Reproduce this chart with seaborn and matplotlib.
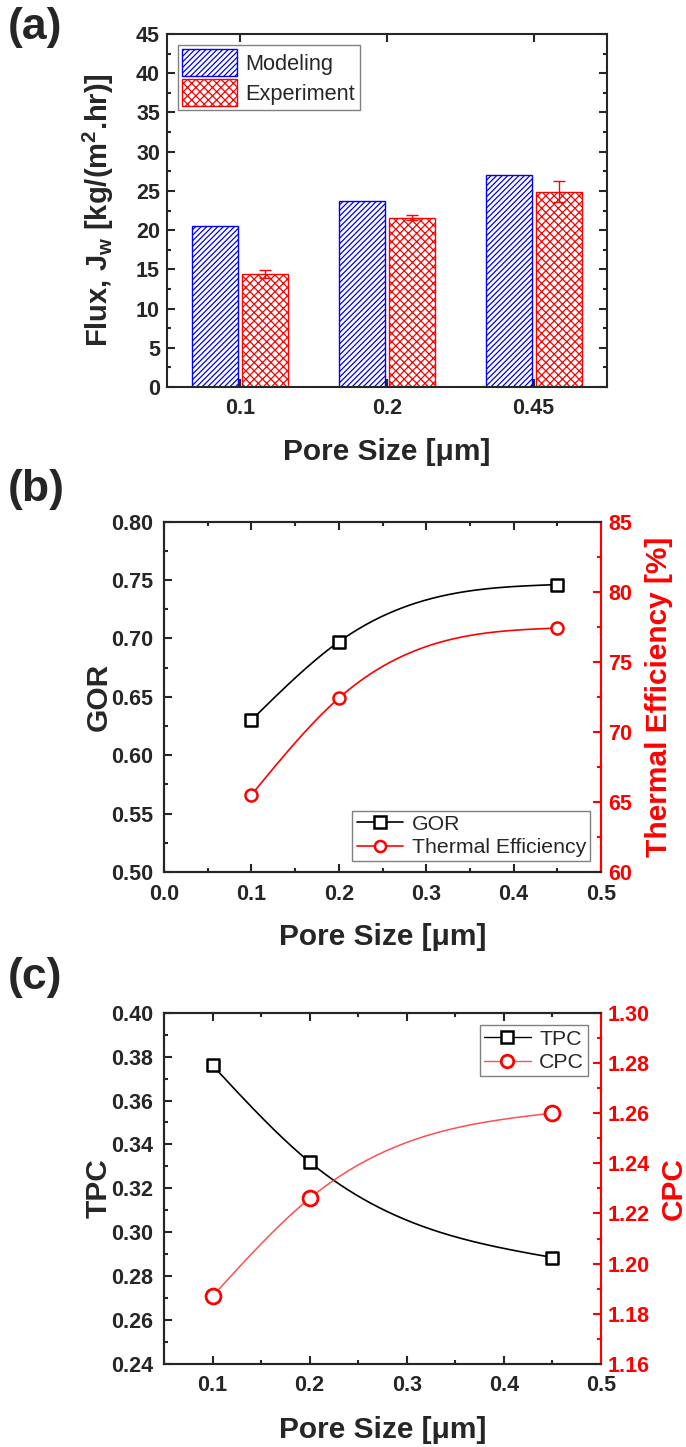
import numpy as np
import pandas as pd
import matplotlib
matplotlib.use("Agg")
import matplotlib.pyplot as plt
import seaborn as sns
from matplotlib.lines import Line2D
from matplotlib.patches import Patch
from matplotlib.ticker import MultipleLocator, FormatStrFormatter

# ---------------- data ----------------
pore_labels = ["0.1", "0.2", "0.45"]
pore_size = [0.1, 0.2, 0.45]
flux_model = [20.5, 23.7, 27.0]
flux_exp = [14.4, 21.6, 24.9]
flux_exp_err = [0.5, 0.3, 1.3]
gor = [0.630, 0.697, 0.746]
thermal_eff = [65.5, 72.4, 77.4]
tpc = [0.376, 0.332, 0.2885]
cpc = [1.187, 1.226, 1.260]

sns.set_theme(style="ticks")
plt.rcParams["font.family"] = ["Liberation Sans", "DejaVu Sans"]
plt.rcParams["font.weight"] = "bold"
plt.rcParams["mathtext.fontset"] = "custom"
plt.rcParams["mathtext.rm"] = "Liberation Sans"
plt.rcParams["mathtext.bf"] = "Liberation Sans:bold"
plt.rcParams["hatch.linewidth"] = 0.9
plt.rcParams["axes.linewidth"] = 1.5


def natural_spline(x, y, n=300):
    x = np.asarray(x, float)
    y = np.asarray(y, float)
    h = np.diff(x)
    k = len(x)
    A = np.zeros((k, k))
    b = np.zeros(k)
    A[0, 0] = 1
    A[-1, -1] = 1
    for i in range(1, k - 1):
        A[i, i - 1] = h[i - 1]
        A[i, i] = 2 * (h[i - 1] + h[i])
        A[i, i + 1] = h[i]
        b[i] = 6 * ((y[i + 1] - y[i]) / h[i] - (y[i] - y[i - 1]) / h[i - 1])
    M = np.linalg.solve(A, b)
    xs = np.linspace(x[0], x[-1], n)
    idx = np.clip(np.searchsorted(x, xs) - 1, 0, k - 2)
    x0 = x[idx]
    x1 = x[idx + 1]
    hh = x1 - x0
    ys = (M[idx] * (x1 - xs) ** 3 / (6 * hh) + M[idx + 1] * (xs - x0) ** 3 / (6 * hh)
          + (y[idx] / hh - M[idx] * hh / 6) * (x1 - xs)
          + (y[idx + 1] / hh - M[idx + 1] * hh / 6) * (xs - x0))
    return xs, ys


TICK = 15.5


def style_ticks(ax):
    ax.tick_params(axis="both", which="major", direction="in", length=6, width=1.5,
                   labelsize=TICK, pad=8)
    ax.tick_params(axis="both", which="minor", direction="in", length=3, width=1.5)


fig = plt.figure(figsize=(6.86, 14.47), dpi=100)
W, H = 686.0, 1447.0


def axes_px(left, top, right, bottom):
    return fig.add_axes([left / W, 1 - bottom / H, (right - left) / W, (bottom - top) / H])


LABEL = 21.5
LEG = dict(size=15.3, weight="normal")

# ---------------- (a) bar chart ----------------
axA = axes_px(167, 34, 607, 387)
df = pd.DataFrame({
    "Pore": pore_labels * 2,
    "Flux": flux_model + flux_exp,
    "Series": ["Modeling"] * 3 + ["Experiment"] * 3,
})
sns.barplot(data=df, x="Pore", y="Flux", hue="Series",
            palette={"Modeling": "white", "Experiment": "white"},
            width=0.68, gap=0.08, errorbar=None, ax=axA, legend=False)
for cont, col, hatch in zip(axA.containers, ["blue", "red"], ["//////", "xxxx"]):
    for p in cont:
        p.set_edgecolor(col)
        p.set_hatch(hatch)
        p.set_linewidth(1.0)
exp_cont = axA.containers[1]
xs_err = [p.get_x() + p.get_width() / 2 for p in exp_cont]
axA.errorbar(xs_err, flux_exp, yerr=flux_exp_err, fmt="none", ecolor="red",
             elinewidth=1.0, capsize=4, capthick=1.0)
axA.set_xlim(-0.5, 2.5)
axA.set_ylim(0, 45)
axA.yaxis.set_major_locator(MultipleLocator(5))
axA.yaxis.set_minor_locator(MultipleLocator(2.5))
axA.tick_params(axis="y", which="both", left=True, right=True)
axA.tick_params(axis="x", which="both", top=True, bottom=True)
style_ticks(axA)
axA.tick_params(axis="y", pad=5)
axA.set_xlabel("Pore Size [\u03bcm]", fontsize=LABEL, fontweight="bold")
axA.set_ylabel("Flux, J$_\\mathregular{w}$ [kg/(m$^\\mathregular{2}$.hr)]", fontsize=21, fontweight="bold")
axA.xaxis.set_label_coords(0.5, -0.184)
axA.xaxis.label.set_va("center")
axA.yaxis.set_label_coords(-0.157, 0.5)
axA.yaxis.label.set_va("center")
handlesA = [Patch(facecolor="white", edgecolor="blue", hatch="//////", label="Modeling"),
            Patch(facecolor="white", edgecolor="red", hatch="xxxx", label="Experiment")]
legA = axA.legend(handles=handlesA, loc="upper left", prop=dict(size=15.7, weight="normal"),
                  fancybox=False, edgecolor="gray", framealpha=1, handlelength=2.5,
                  handleheight=1.5, borderaxespad=0.5, borderpad=0.2, handletextpad=0.4,
                  labelspacing=0.15)
legA.get_frame().set_linewidth(1.0)

# ---------------- (b) GOR / thermal efficiency ----------------
axB = axes_px(164, 521.5, 601, 872)
axB2 = axB.twinx()
xs, ys = natural_spline(pore_size, gor)
sns.lineplot(x=xs, y=ys, color="black", lw=1.2, ax=axB)
sns.scatterplot(x=pore_size, y=gor, marker="s", s=70, facecolor="white",
                edgecolor="black", linewidth=1.8, ax=axB, zorder=5)
xs, ys = natural_spline(pore_size, thermal_eff)
sns.lineplot(x=xs, y=ys, color="red", lw=1.2, ax=axB2)
sns.scatterplot(x=pore_size, y=thermal_eff, marker="o", s=75, facecolor="white",
                edgecolor="red", linewidth=1.8, ax=axB2, zorder=5)
axB.set_xlim(0, 0.5)
axB.set_ylim(0.5, 0.8)
axB2.set_ylim(60, 85)
axB.xaxis.set_major_locator(MultipleLocator(0.1))
axB.xaxis.set_minor_locator(MultipleLocator(0.05))
axB.xaxis.set_major_formatter(FormatStrFormatter("%.1f"))
axB.yaxis.set_major_locator(MultipleLocator(0.05))
axB.yaxis.set_minor_locator(MultipleLocator(0.025))
axB.yaxis.set_major_formatter(FormatStrFormatter("%.2f"))
axB2.yaxis.set_major_locator(MultipleLocator(5))
axB2.yaxis.set_minor_locator(MultipleLocator(2.5))
axB.tick_params(axis="x", which="both", top=True, bottom=True)
style_ticks(axB)
axB.tick_params(axis="x", pad=9)
style_ticks(axB2)
axB2.tick_params(axis="y", which="both", colors="red", pad=5)
axB2.spines["right"].set_color("red")
axB2.spines["right"].set_linewidth(1.5)
axB.set_xlabel("Pore Size [\u03bcm]", fontsize=LABEL, fontweight="bold")
axB.set_ylabel("GOR", fontsize=LABEL, fontweight="bold")
axB2.set_ylabel("Thermal Efficiency [%]", fontsize=LABEL, fontweight="bold", color="red")
axB.xaxis.set_label_coords(0.5, -0.185)
axB.xaxis.label.set_va("center")
axB.yaxis.set_label_coords(-0.149, 0.5)
axB.yaxis.label.set_va("center")
axB2.yaxis.set_label_coords(1.133, 0.5)
axB2.yaxis.label.set_va("center")
handlesB = [Line2D([], [], color="black", lw=1.2, marker="s", ms=8, mfc="white", mec="black",
                   mew=1.8, label="GOR"),
            Line2D([], [], color="red", lw=1.2, marker="o", ms=8, mfc="white", mec="red",
                   mew=1.8, label="Thermal Efficiency")]
legB = axB2.legend(handles=handlesB, loc="lower right", prop=LEG, fancybox=False,
                   edgecolor="gray", framealpha=1, borderaxespad=0.5, borderpad=0.2,
                   handletextpad=0.4, labelspacing=0.2, handlelength=2.2)
legB.get_frame().set_linewidth(1.0)

# ---------------- (c) TPC / CPC ----------------
axC = axes_px(164, 1012.7, 601, 1364)
axC2 = axC.twinx()
xs, ys = natural_spline(pore_size, tpc)
sns.lineplot(x=xs, y=ys, color="black", lw=1.2, ax=axC)
sns.scatterplot(x=pore_size, y=tpc, marker="s", s=70, facecolor="white",
                edgecolor="black", linewidth=1.8, ax=axC, zorder=5)
xs, ys = natural_spline(pore_size, cpc)
sns.lineplot(x=xs, y=ys, color="#ff3030", lw=1.1, alpha=0.85, ax=axC2)
sns.scatterplot(x=pore_size, y=cpc, marker="o", s=115, facecolor="white",
                edgecolor="red", linewidth=2.0, ax=axC2, zorder=5)
axC.set_xlim(0.05, 0.5)
axC.set_ylim(0.24, 0.40)
axC2.set_ylim(1.16, 1.30)
axC.xaxis.set_major_locator(MultipleLocator(0.1))
axC.xaxis.set_minor_locator(MultipleLocator(0.05))
axC.xaxis.set_major_formatter(FormatStrFormatter("%.1f"))
axC.yaxis.set_major_locator(MultipleLocator(0.02))
axC.yaxis.set_minor_locator(MultipleLocator(0.01))
axC.yaxis.set_major_formatter(FormatStrFormatter("%.2f"))
axC2.yaxis.set_major_locator(MultipleLocator(0.02))
axC2.yaxis.set_minor_locator(MultipleLocator(0.01))
axC2.yaxis.set_major_formatter(FormatStrFormatter("%.2f"))
axC.tick_params(axis="x", which="both", top=True, bottom=True)
style_ticks(axC)
style_ticks(axC2)
axC2.tick_params(axis="y", which="both", colors="red", pad=5)
axC2.spines["right"].set_color("red")
axC2.spines["right"].set_linewidth(1.5)
axC.set_xlabel("Pore Size [\u03bcm]", fontsize=LABEL, fontweight="bold")
axC.set_ylabel("TPC", fontsize=LABEL, fontweight="bold")
axC2.set_ylabel("CPC", fontsize=LABEL, fontweight="bold", color="red")
axC.xaxis.set_label_coords(0.5, -0.188)
axC.xaxis.label.set_va("center")
axC.yaxis.set_label_coords(-0.149, 0.5)
axC.yaxis.label.set_va("center")
axC2.yaxis.set_label_coords(1.167, 0.5)
axC2.yaxis.label.set_va("center")
handlesC = [Line2D([], [], color="black", lw=1.0, marker="s", ms=8, mfc="white", mec="black",
                   mew=1.8, label="TPC"),
            Line2D([], [], color="#ff5050", lw=1.0, marker="o", ms=9, mfc="white", mec="red",
                   mew=2.0, label="CPC")]
legC = axC2.legend(handles=handlesC, loc="upper right", prop=LEG, fancybox=False,
                   edgecolor="gray", framealpha=1, borderaxespad=0.6, borderpad=0.2,
                   handletextpad=0.4, labelspacing=0.2, handlelength=2.2)
legC.get_frame().set_linewidth(1.0)

# ---------------- panel letters ----------------
for lab, ycen in [("(a)", 28), ("(b)", 490), ("(c)", 978)]:
    fig.text(8 / W, 1 - ycen / H, lab, fontsize=32, fontweight="bold", va="center", ha="left")

fig.savefig("out.png", dpi=100)
